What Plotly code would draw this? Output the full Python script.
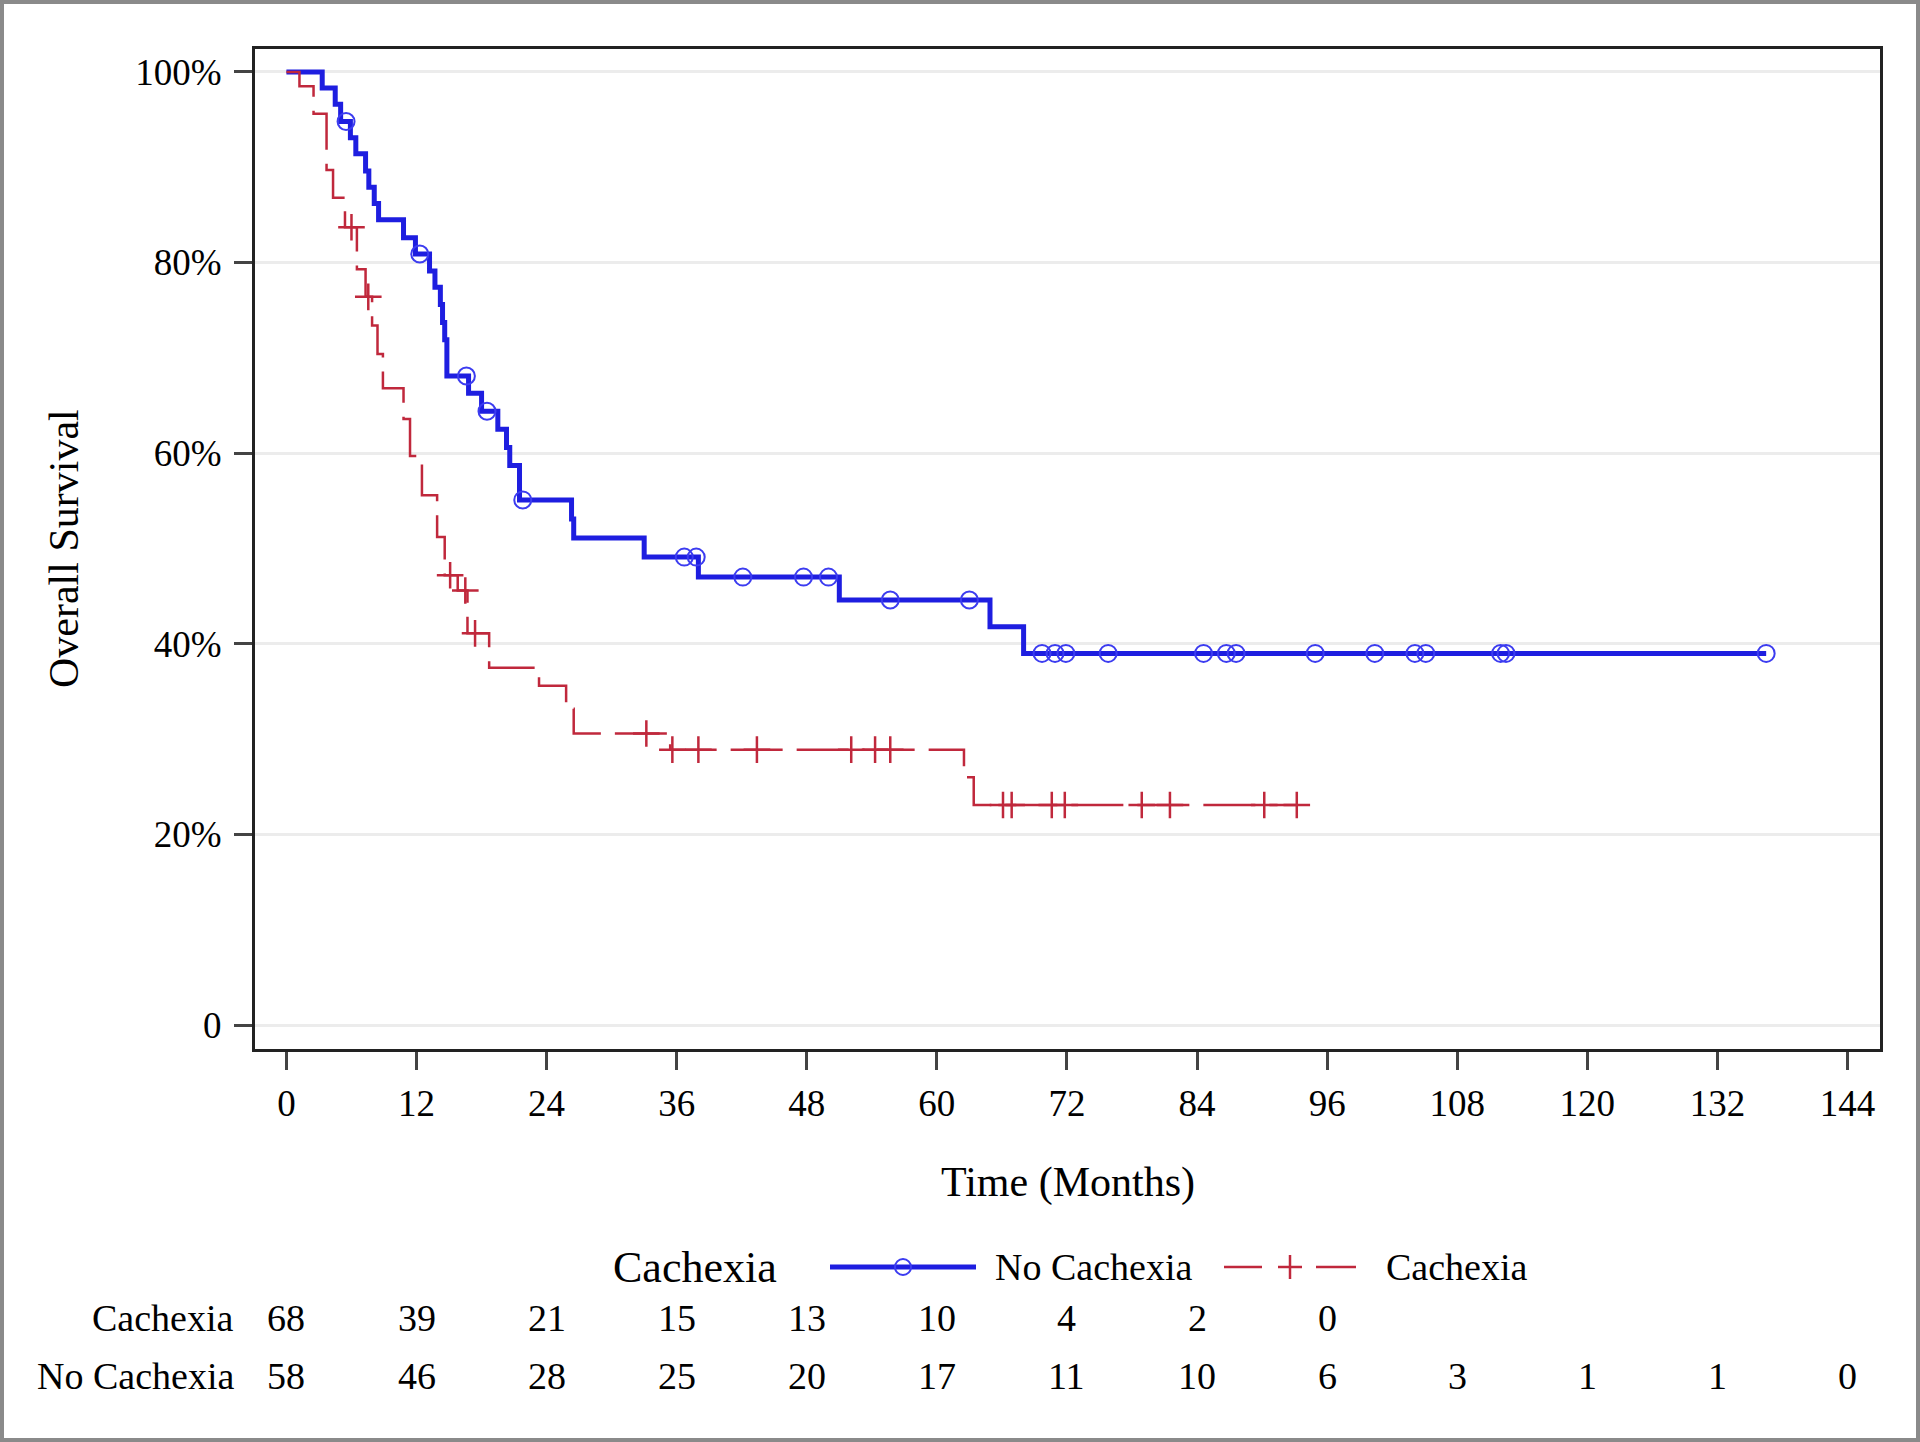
import plotly.graph_objects as go

# ---------------- data ----------------
# Kaplan-Meier steps: No Cachexia
nc_time = [0, 3.3, 4.5, 5.0, 5.9, 6.4, 7.3, 7.6, 8.1, 8.5, 10.8, 11.9, 13.2, 13.7,
           14.2, 14.4, 14.6, 14.8, 16.8, 18.0, 19.5, 20.3, 20.6, 21.5, 26.3, 26.5,
           33.0, 38.0, 51.0, 64.9, 68.0]
nc_surv = [100, 98.3, 96.6, 94.8, 93.1, 91.4, 89.6, 87.9, 86.2, 84.5, 82.6, 80.9,
           79.1, 77.4, 75.6, 73.7, 71.9, 68.1, 66.3, 64.4, 62.5, 60.6, 58.7, 55.1,
           53.1, 51.1, 49.1, 47.0, 44.6, 41.8, 39.0]
nc_censor = [5.5, 12.3, 16.6, 18.5, 21.8, 36.7, 37.8, 42.1, 47.7, 50.0, 55.7, 63.0,
             69.7, 70.9, 71.9, 75.8, 84.6, 86.7, 87.6, 94.9, 100.4, 104.1, 105.1,
             112.0, 112.5, 136.5]

# Kaplan-Meier steps: Cachexia
c_time = [0, 1.2, 2.5, 3.7, 4.3, 5.4, 6.5, 7.3, 7.9, 8.4, 8.9, 10.8, 11.4, 12.5,
          13.9, 14.6, 15.8, 16.7, 18.7, 23.3, 25.8, 26.5, 35.4, 62.5, 63.4]
c_surv = [100, 98.5, 95.6, 89.7, 86.8, 83.7, 79.3, 76.4, 73.4, 70.4, 66.8, 63.6,
          59.7, 55.6, 51.2, 47.2, 45.6, 41.1, 37.5, 35.6, 33.2, 30.6, 28.9, 26.0, 23.1]
c_censor = [6.0, 7.55, 15.1, 16.5, 17.4, 33.2, 35.6, 38.0, 43.4, 52.1, 54.3, 55.7,
            66.1, 66.9, 70.6, 71.8, 78.9, 81.5, 90.2, 93.2]

# number at risk table
risk_times = [0, 12, 24, 36, 48, 60, 72, 84, 96, 108, 120, 132, 144]
risk_cachexia = [68, 39, 21, 15, 13, 10, 4, 2, 0]
risk_no_cachexia = [58, 46, 28, 25, 20, 17, 11, 10, 6, 3, 1, 1, 0]

y_ticks = [0, 20, 40, 60, 80, 100]
y_ticktext = ["0", "20%", "40%", "60%", "80%", "100%"]

legend_title = "Cachexia"
group_names = ["No Cachexia", "Cachexia"]

# ---------------- styling / layout geometry ----------------
FONT = "Liberation Serif"
BLUE = "#1e1ee0"
BLUE_MK = "#3c3cf0"
RED = "#c0283c"
W, H = 1920, 1442
ML, MR, MT, MB = 255, 40, 49, 393
PW, PH = W - ML - MR, H - MT - MB


def px(xpix):
    return (xpix - ML) / PW


def py(ypix):
    return (H - MB - ypix) / PH


def step_value(times, surv, t):
    val = surv[0]
    for ti, si in zip(times, surv):
        if ti <= t:
            val = si
    return val


fig = go.Figure()

# curves (extend to last censored time)
nc_x = nc_time + [max(nc_censor)]
nc_y = nc_surv + [nc_surv[-1]]
c_x = c_time + [max(c_censor)]
c_y = c_surv + [c_surv[-1]]

fig.add_trace(go.Scatter(x=nc_x, y=nc_y, mode="lines", line=dict(color=BLUE, width=5, shape="hv"),
                         showlegend=False, hoverinfo="skip"))
fig.add_trace(go.Scatter(x=c_x, y=c_y, mode="lines",
                         line=dict(color=RED, width=2.5, shape="hv", dash="52px,14px"),
                         showlegend=False, hoverinfo="skip"))

# censor marks
fig.add_trace(go.Scatter(x=nc_censor, y=[step_value(nc_time, nc_surv, t) for t in nc_censor],
                         mode="markers",
                         marker=dict(symbol="circle-open", size=17, color=BLUE_MK, line=dict(width=2, color=BLUE_MK)),
                         showlegend=False, hoverinfo="skip"))
fig.add_trace(go.Scatter(x=c_censor, y=[step_value(c_time, c_surv, t) for t in c_censor],
                         mode="markers",
                         marker=dict(symbol="cross-thin-open", size=19, color=RED, line=dict(width=2.5, color=RED)),
                         showlegend=False, hoverinfo="skip"))

# ---------------- manual legend ----------------
LEG_Y = 1267
fig.add_annotation(x=px(611), y=py(LEG_Y), xref="paper", yref="paper", text=legend_title,
                   showarrow=False, xanchor="left", yanchor="middle",
                   font=dict(family=FONT, size=44, color="black"))
# No Cachexia sample: solid line + open circle
fig.add_shape(type="line", xref="paper", yref="paper", x0=px(830), x1=px(976), y0=py(LEG_Y), y1=py(LEG_Y),
              line=dict(color=BLUE, width=5))
fig.add_shape(type="circle", xref="paper", yref="paper", x0=px(895), x1=px(911),
              y0=py(LEG_Y + 8), y1=py(LEG_Y - 8), line=dict(color=BLUE_MK, width=2), fillcolor="rgba(0,0,0,0)")
fig.add_annotation(x=px(993), y=py(LEG_Y), xref="paper", yref="paper", text=group_names[0],
                   showarrow=False, xanchor="left", yanchor="middle",
                   font=dict(family=FONT, size=38, color="black"))
# Cachexia sample: dashes + plus
for x0, x1 in ((1224, 1262), (1316, 1356)):
    fig.add_shape(type="line", xref="paper", yref="paper", x0=px(x0), x1=px(x1), y0=py(LEG_Y), y1=py(LEG_Y),
                  line=dict(color=RED, width=2.5))
fig.add_shape(type="line", xref="paper", yref="paper", x0=px(1278), x1=px(1302), y0=py(LEG_Y), y1=py(LEG_Y),
              line=dict(color=RED, width=2.5))
fig.add_shape(type="line", xref="paper", yref="paper", x0=px(1290), x1=px(1290), y0=py(LEG_Y - 12), y1=py(LEG_Y + 12),
              line=dict(color=RED, width=2.5))
fig.add_annotation(x=px(1384), y=py(LEG_Y), xref="paper", yref="paper", text=group_names[1],
                   showarrow=False, xanchor="left", yanchor="middle",
                   font=dict(family=FONT, size=38, color="black"))

# ---------------- risk table ----------------
row_y = {"Cachexia": py(1317.5), "No Cachexia": py(1376)}
for label, vals in (("Cachexia", risk_cachexia), ("No Cachexia", risk_no_cachexia)):
    fig.add_annotation(x=px(236), y=row_y[label], xref="paper", yref="paper", text=label,
                       showarrow=False, xanchor="right", yanchor="middle",
                       font=dict(family=FONT, size=38, color="black"))
    for t, v in zip(risk_times, vals):
        fig.add_annotation(x=t, y=row_y[label], xref="x", yref="paper", text=str(v),
                           showarrow=False, xanchor="center", yanchor="middle",
                           font=dict(family=FONT, size=38, color="black"))

# axis titles
fig.add_annotation(x=0.5, y=py(1182), xref="paper", yref="paper", text="Time (Months)",
                   showarrow=False, xanchor="center", yanchor="middle",
                   font=dict(family=FONT, size=42, color="black"))
fig.add_annotation(x=px(64), y=0.5, xref="paper", yref="paper", text="Overall Survival",
                   showarrow=False, xanchor="center", yanchor="middle", textangle=-90,
                   font=dict(family=FONT, size=42, color="black"))

# outer gray border
fig.add_shape(type="rect", xref="paper", yref="paper",
              x0=px(2), x1=px(W - 2), y0=py(H - 2), y1=py(2),
              line=dict(color="#8a8a8a", width=4), fillcolor="rgba(0,0,0,0)", layer="below")

fig.update_layout(
    width=W, height=H,
    margin=dict(l=ML, r=MR, t=MT, b=MB),
    paper_bgcolor="white", plot_bgcolor="white",
    font=dict(family=FONT, size=37, color="black"),
    showlegend=False,
)

fig.update_xaxes(range=[-2.9, 147], tickmode="array", tickvals=risk_times,
                 ticks="outside", ticklen=18, tickwidth=2.5, tickcolor="#444",
                 showgrid=False, zeroline=False, showline=True, linecolor="#222", linewidth=3,
                 mirror=True, tickfont=dict(family=FONT, size=37), ticklabelstandoff=2)
fig.update_yaxes(range=[-2.5, 102.4], tickmode="array", tickvals=y_ticks, ticktext=y_ticktext,
                 ticks="outside", ticklen=18, tickwidth=2.5, tickcolor="#444",
                 showgrid=True, gridcolor="#ececec", gridwidth=2.5, zeroline=False,
                 showline=True, linecolor="#222", linewidth=3, mirror=True,
                 tickfont=dict(family=FONT, size=37), ticklabelstandoff=5)

fig.write_html("out.html",
               config={"displayModeBar": False},
               post_script="document.body.style.margin='0px';document.body.style.padding='0px';"
                           "document.body.style.overflow='hidden';")
